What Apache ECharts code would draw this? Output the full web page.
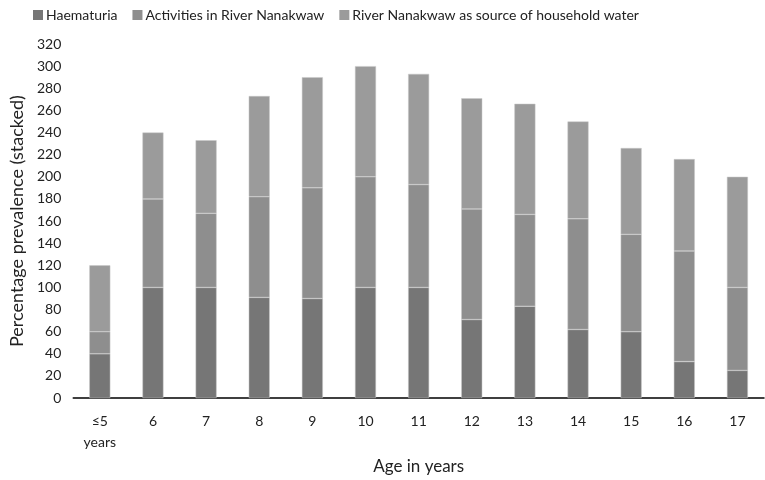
<!DOCTYPE html>
<html lang="en">
<head>
  <meta charset="UTF-8">
  <title>Prevalence by age</title>
  <style>
    body { margin: 0; background: #fff; }
    #main { width: 765px; height: 480px; }
  </style>
</head>
<body>
  <div id="main"></div>
  <script src="https://cdn.jsdelivr.net/npm/echarts@6/dist/echarts.min.js"></script>
  <script>
    // categories and stacked values
    var ages = ['≤5\nyears', '6', '7', '8', '9', '10', '11', '12', '13', '14', '15', '16', '17'];
    var haematuria = [40, 100, 100, 91, 90, 100, 100, 71, 83, 62, 60, 33, 25];
    var activities = [20, 80, 67, 91, 100, 100, 93, 100, 83, 100, 88, 100, 75];
    var householdWater = [60, 60, 66, 91, 100, 100, 100, 100, 100, 88, 78, 83, 100];

    var font = 'Lato, "Open Sans", sans-serif';
    var myChart = echarts.init(document.getElementById('main'));

    function bar(name, data, color) {
      return {
        name: name,
        type: 'bar',
        stack: 'total',
        barWidth: 21,
        data: data,
        itemStyle: { color: color, borderColor: '#c8c8c8', borderWidth: 0.5 }
      };
    }

    var option = {
      animation: false,
      textStyle: { fontFamily: font },
      legend: {
        top: 3,
        left: 28,
        itemWidth: 10,
        itemHeight: 10,
        itemGap: 15,
        icon: 'rect',
        itemStyle: { borderWidth: 0 },
        textStyle: { fontSize: 14, color: '#222', fontFamily: font, padding: [0, 0, 0, -2] }
      },
      grid: { left: 71, right: 1, top: 44, bottom: 80 },
      xAxis: {
        type: 'category',
        data: ages,
        name: 'Age in years',
        nameLocation: 'middle',
        nameGap: 58,
        nameTextStyle: { fontSize: 17, color: '#222', fontFamily: font },
        axisLine: { lineStyle: { color: '#000', width: 1.5 } },
        axisTick: { show: false },
        axisLabel: { fontSize: 14, color: '#222', margin: 13, lineHeight: 21, fontFamily: font }
      },
      yAxis: {
        type: 'value',
        min: 0,
        max: 320,
        interval: 20,
        name: 'Percentage prevalence (stacked)',
        nameLocation: 'middle',
        nameGap: 47,
        nameTextStyle: { fontSize: 18, color: '#222', fontFamily: font },
        axisLine: { show: false },
        axisTick: { show: false },
        splitLine: { show: false },
        axisLabel: { fontSize: 14, color: '#222', margin: 12, fontFamily: font }
      },
      series: [
        bar('Haematuria', haematuria, '#767676'),
        bar('Activities in River Nanakwaw', activities, '#8e8e8e'),
        bar('River Nanakwaw as source of household water', householdWater, '#9b9b9b')
      ]
    };

    myChart.setOption(option);
  </script>
</body>
</html>
